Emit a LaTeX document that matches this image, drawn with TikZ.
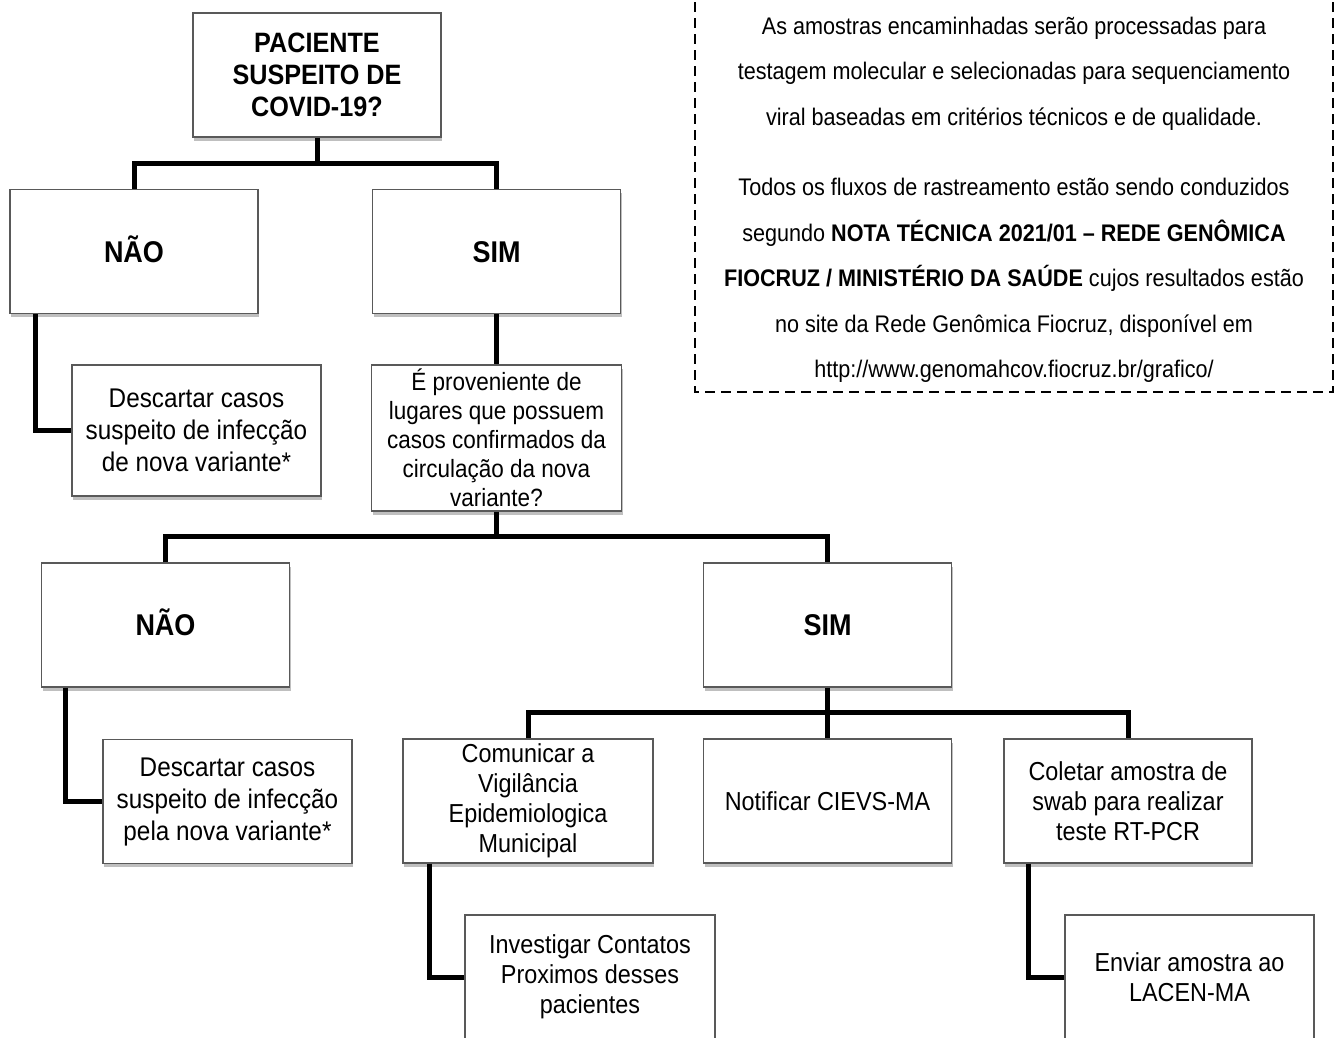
\documentclass[tikz,border=0pt]{standalone}
\usepackage{fontspec}
\setmainfont{Liberation Sans}[FakeStretch=0.9]
\usetikzlibrary{shadows}
\begin{document}
\begin{tikzpicture}[x=1pt,y=-1pt,
  box/.style={draw=gray!70!black, line width=1.1pt, fill=white,
    minimum width=248pt, minimum height=124pt, align=center, inner sep=2pt,
    drop shadow={shadow xshift=1.2pt, shadow yshift=-3.5pt, opacity=0.25, fill=black}},
  big/.style={font=\bfseries\fontsize{28}{32}\selectfont},
  ans/.style={font=\bfseries\fontsize{30}{34}\selectfont, text height=21.5pt, text depth=0pt},
  txt/.style={font=\fontsize{26}{30}\selectfont},
  wire/.style={line width=5pt, black},
  note/.style={font=\fontsize{24}{45.5}\selectfont, align=center, inner sep=0pt},
  frame/.style={line width=2.2pt, dash pattern=on 10pt off 6pt}]
\useasboundingbox (0,0) rectangle (1338,1037);
\fill[white] (0,0) rectangle (1338,1037);

% boxes
\node[box,big] (top) at (317,75) {PACIENTE\\SUSPEITO DE\\COVID-19?};
\node[box,ans] (no1) at (134,251.5) {NÃO};
\node[box,ans] (yes1) at (496.5,251.5) {SIM};
\node[box,minimum width=249pt,minimum height=131pt,font=\fontsize{27}{32}\selectfont] (disc1) at (196.5,430.5)
  {Descartar casos\\suspeito de infecção\\de nova variante*};
\node[box,minimum width=250pt,minimum height=146pt,font=\fontsize{25}{29}\selectfont] (q) at (496.5,438)
  {É proveniente de\\lugares que possuem\\casos confirmados da\\circulação da nova\\variante?};
\node[box,ans] (no2) at (165.5,625) {NÃO};
\node[box,ans] (yes2) at (827.5,625) {SIM};
\node[box,minimum width=249pt,font=\fontsize{27}{32}\selectfont] (disc2) at (227.5,801.5)
  {Descartar casos\\suspeito de infecção\\pela nova variante*};
\node[box,txt,minimum width=250pt] (com) at (528,801) {Comunicar a\\Vigilância\\Epidemiologica\\Municipal};
\node[box,txt] (notif) at (827.5,801) {Notificar CIEVS-MA};
\node[box,txt] (colet) at (1128,801) {Coletar amostra de\\swab para realizar\\teste RT-PCR};
\node[box,txt,minimum width=250pt] (inv) at (590,977) {Investigar Contatos\\Proximos desses\\pacientes};
\node[box,txt,minimum width=249pt] (env) at (1189.5,977) {Enviar amostra ao\\LACEN-MA};

% connectors
\coordinate (b1) at (317,163);
\coordinate (b2) at (496.5,536);
\coordinate (b3) at (827.5,712);
\draw[wire] (top.south) -- (b1);
\draw[wire] (no1.north) |- (b1) -| (yes1.north);
\draw[wire] ([xshift=26pt]no1.south west) |- (disc1.west);
\draw[wire] (yes1.south) -- (q.north);
\draw[wire] (q.south) -- (b2);
\draw[wire] (no2.north) |- (b2) -| (yes2.north);
\draw[wire] ([xshift=25pt]no2.south west) |- (disc2.west);
\draw[wire] (yes2.south) -- (b3) -- (notif.north);
\draw[wire] (com.north) |- (b3) -| (colet.north);
\draw[wire] ([xshift=27pt]com.south west) |- (inv.west);
\draw[wire] ([xshift=25pt]colet.south west) |- (env.west);

% note
\draw[frame] (695,-30) rectangle (1333,392);
\node[note] (n1) at (1014,73.5)
  {As amostras encaminhadas serão processadas para\\
   testagem molecular e selecionadas para sequenciamento\\
   viral baseadas em critérios técnicos e de qualidade.};
\node[note] (n2) at (1014,280.5)
  {Todos os fluxos de rastreamento estão sendo conduzidos\\
   segundo \textbf{NOTA TÉCNICA 2021/01 – REDE GENÔMICA}\\
   \textbf{FIOCRUZ / MINISTÉRIO DA SAÚDE} cujos resultados estão\\
   no site da Rede Genômica Fiocruz, disponível em\\
   http://www.genomahcov.fiocruz.br/grafico/};
\end{tikzpicture}
\end{document}
